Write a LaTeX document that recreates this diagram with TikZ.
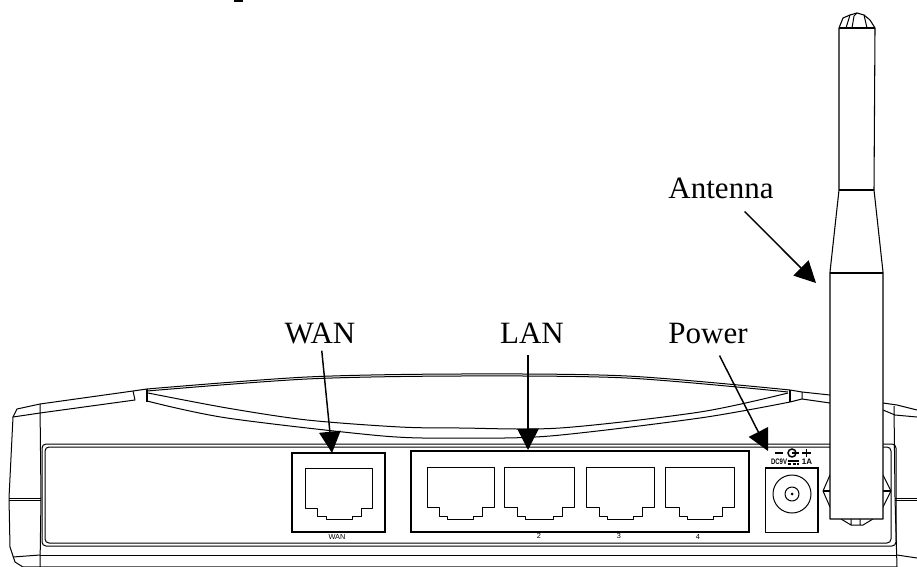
\documentclass[tikz,border=0pt]{standalone}
\usepackage{fontspec}
\setmainfont{Liberation Serif}
\newfontfamily\portfont{Liberation Sans}
\usetikzlibrary{arrows.meta}
\tikzset{
  wire/.style={line width=0.75pt,line join=round},
  frame/.style={line width=1.5pt,line join=miter},
  aerial/.style={line width=0.8pt,fill=white,line join=round},
  calltext/.style={anchor=base,inner xsep=0.75pt,inner ysep=8pt,font=\fontsize{23.25}{26}\selectfont},
  porttext/.style={inner sep=0pt,font=\portfont\fontsize{5.5}{6}\selectfont},
  pointer/.style={line width=1.1pt,-{Triangle[length=16pt,width=16pt]}},
}
\begin{document}
\begin{tikzpicture}[x=0.75pt,y=0.75pt,yscale=-1,xscale=1]
\useasboundingbox (0,0) rectangle (917,567);
\draw [line width=1.1pt] (234,1) -- (243,1) ;
\draw [wire] (23,567) -- (15,562) -- (10,547) -- (9,498) -- (13,417) -- (17,409) -- (40,404) -- (133,391) -- (147,389) ;
\draw [wire] (13,417) -- (40,413) -- (135,400) -- (133,391) ;
\draw [line width=1.2pt] (147,402) -- (147,389) ;
\draw [wire] (40,404) -- (41,498) -- (40,567) ;
\draw [wire] (9,498) -- (41,498) (9,500) -- (41,500) ;
\draw [wire] (13,557) -- (40,555) ;
\draw [wire] plot [smooth] coordinates {(147,389) (307,377) (460,374) (627,376) (790,390)} ;
\draw [wire] plot [smooth] coordinates {(147,391) (307,379) (460,376) (627,378) (788,392)} ;
\draw [wire] plot [smooth] coordinates {(148,393) (227,408) (307,420) (400,427) (460,428) (560,428) (700,412) (788,393)} ;
\draw [wire] plot [smooth] coordinates {(147,401) (227,418) (383,436) (460,438) (550,436) (700,418) (790,402)} ;
\draw [line width=1.2pt] (790,402) -- (790,390) ;
\draw [wire] (790,390) -- (802,392) -- (830,395) (790,402) -- (802,399) -- (830,403) (802,392) -- (802,399) ;
\draw [wire] (883,403) -- (897,405) -- (917,410) ;
\draw [wire] (883,410) -- (895,415) -- (917,417) ;
\draw [wire] (894,406) -- (895,498) -- (897,567) ;
\draw [wire] (895,498) -- (917,498) (895,500) -- (917,500) ;
\draw [wire] (897,555) -- (917,558) ;
\draw [wire, rounded corners=3pt] (42,444) rectangle (896,546) ;
\draw [wire, rounded corners=3pt] (45,447) rectangle (891,543) ;
\draw [wire] (40,555) -- (897,555) ;
\draw [wire, draw opacity=0.6] (23,566.5) -- (897,566.5) ;
\draw [frame, fill=white] (292,453) rectangle (385,532) ;
\draw [wire] (305,468) -- (372,468) -- (372,508) -- (361,508) -- (361,516) -- (352,516) -- (352,519) -- (326,519) -- (326,516) -- (317,516) -- (317,508) -- (305,508) -- cycle ;
\node [porttext] (wanmark) at (337,537) {WAN};
\draw [frame, fill=white] (411,451) rectangle (749,532) ;
\draw [wire] (427,467) -- (494,467) -- (494,507) -- (482,507) -- (482,516) -- (473,516) -- (473,519) -- (447,519) -- (447,516) -- (439,516) -- (439,507) -- (427,507) -- cycle ;
\draw [wire] (504,467) -- (574,467) -- (574,507) -- (562,507) -- (562,516) -- (553,516) -- (553,519) -- (525,519) -- (525,516) -- (517,516) -- (517,507) -- (504,507) -- cycle ;
\draw [wire] (586,467) -- (654,467) -- (654,507) -- (642,507) -- (642,516) -- (633,516) -- (633,519) -- (607,519) -- (607,516) -- (599,516) -- (599,507) -- (586,507) -- cycle ;
\draw [wire] (665,467) -- (734,467) -- (734,507) -- (722,507) -- (722,516) -- (713,516) -- (713,519) -- (687,519) -- (687,516) -- (679,516) -- (679,507) -- (665,507) -- cycle ;
\node [porttext] (lantwo) at (539,536) {2};
\node [porttext] (lanthree) at (619,536) {3};
\node [porttext] (lanfour) at (698,537) {4};
\draw [wire, fill=white] (765,468) rectangle (818,532) ;
\draw [frame] (765,468) -- (818,468) -- (818,532) ;
\draw [wire] (792,494) circle [radius=19] ;
\draw [wire] (792,494) circle [radius=7] ;
\fill (792,494) circle [radius=1.5] ;
\draw [line width=1.3pt] (775,453) -- (783,453) (792,453) -- (799,453) ;
\draw [line width=1.1pt] (792,453) circle [radius=4] ;
\draw [line width=1.4pt] (802,453) -- (811,453) (806.5,449) -- (806.5,457) ;
\draw [line width=1.1pt] (788,461) -- (799,461) ;
\draw [line width=1.1pt, dash pattern=on 2.5pt off 1pt] (788,464) -- (799,464) ;
\node [porttext, xscale=0.75, font=\portfont\bfseries\fontsize{6}{6}\selectfont] (dcmark) at (779,462) {DC9V};
\node [porttext, font=\portfont\bfseries\fontsize{6}{6}\selectfont] (ampmark) at (807,462) {1A};
\draw [wire, fill=white] (830,475) -- (823,491) -- (830,507) -- (883,507) -- (891,491) -- (883,475) -- cycle ;
\draw [frame] (823,491) -- (830,491) (883,491) -- (891,491) ;
\draw [wire] (841,519) -- (851,525) -- (863,525) -- (873,519) (851,519) -- (851,525) (860,519) -- (860,525) ;
\draw [aerial] (830,519) -- (830,272) -- (839,190) -- (839,28) -- (843,18) -- (850,15) -- (857,13) -- (864,15) -- (870,20) -- (875,28) -- (874,190) -- (883,272) -- (883,519) -- cycle ;
\draw [aerial] (839,190) -- (874,190) ;
\draw [aerial] (830,273) -- (883,273) ;
\draw [aerial] (839,28) -- (875,28) ;
\draw [wire] (846,28) -- (850,15) (852,28) -- (854,16) -- (857,13) (867,28) -- (864,15) ;
\node [calltext, inner ysep=5.25pt] (wan) at (320,343) {WAN};
\node [calltext, inner ysep=9pt] (lan) at (532,343) {LAN};
\node [calltext, inner ysep=9pt] (power) at (708,343) {Power};
\node [calltext, inner ysep=9.75pt] (antenna) at (721,198) {Antenna};
\coordinate (wanport) at (332,453);
\coordinate (lanport) at (528,450);
\coordinate (powerjack) at (768,451);
\coordinate (antennarod) at (816,283);
\draw [pointer] (wan) -- (wanport) ;
\draw [pointer] (lan.south -| lanport) -- (lanport) ;
\draw [pointer] (power) -- (powerjack) ;
\draw [pointer] (antenna) -- (antennarod) ;
\end{tikzpicture}
\end{document}
